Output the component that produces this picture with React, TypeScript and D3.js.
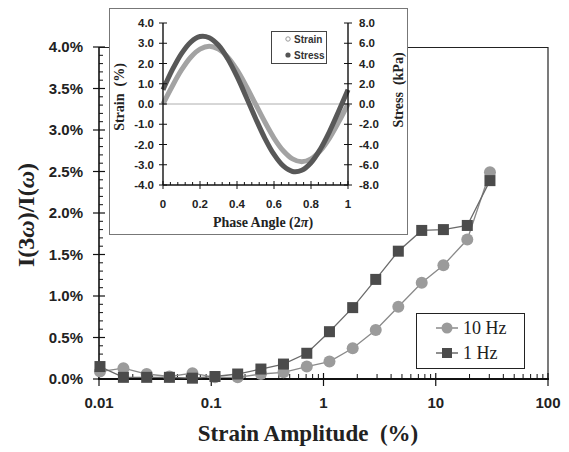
import React from "react";
import * as d3 from "d3";

// Main chart data (strain amplitude %, I(3w)/I(w) %)
const amp1Hz = [0.0102, 0.0165, 0.0266, 0.0424, 0.068, 0.108, 0.172, 0.277, 0.44, 0.71, 1.13, 1.82, 2.92, 4.64, 7.5, 11.7, 19.1, 30.4];
const val1Hz = [0.15, 0.02, 0.02, 0.02, 0.01, 0.03, 0.06, 0.12, 0.18, 0.31, 0.57, 0.86, 1.2, 1.54, 1.79, 1.8, 1.85, 2.39];
const amp10Hz = [0.0102, 0.0165, 0.0266, 0.0424, 0.068, 0.108, 0.172, 0.277, 0.44, 0.71, 1.13, 1.82, 2.92, 4.64, 7.5, 11.7, 19.1, 30.4];
const val10Hz = [0.09, 0.13, 0.06, 0.03, 0.07, 0.02, 0.02, 0.06, 0.08, 0.15, 0.21, 0.37, 0.59, 0.87, 1.16, 1.37, 1.68, 2.49];

const xTickLabels = ["0.01", "0.1", "1", "10", "100"];
const yTicks = [0, 0.5, 1, 1.5, 2, 2.5, 3, 3.5, 4];

// Inset data
const phase = [0, 0.05, 0.1, 0.15, 0.2, 0.25, 0.3, 0.35, 0.4, 0.45, 0.5, 0.55, 0.6, 0.65, 0.7, 0.75, 0.8, 0.85, 0.9, 0.95, 1.0];
const strainVals = [0, 0.88, 1.68, 2.31, 2.71, 2.85, 2.71, 2.31, 1.68, 0.88, 0, -0.88, -1.68, -2.31, -2.71, -2.85, -2.71, -2.31, -1.68, -0.88, 0];
const stressVals = [1.4, 3.36, 4.98, 6.12, 6.66, 6.55, 5.8, 4.47, 2.72, 0.69, -1.4, -3.36, -4.98, -6.12, -6.66, -6.55, -5.8, -4.47, -2.72, -0.69, 1.4];
const insetLeftTicks = [-4, -3, -2, -1, 0, 1, 2, 3, 4];
const insetRightTicks = [-8, -6, -4, -2, 0, 2, 4, 6, 8];
const insetXTicks = [0, 0.2, 0.4, 0.6, 0.8, 1];

const SANS = "'Liberation Sans', Arial, sans-serif";
const SERIF = "'Liberation Serif', 'Times New Roman', serif";

export default function App() {
  const W = 569, H = 452;
  const x = d3.scaleLog().domain([0.01, 100]).range([99, 548]);
  const y = d3.scaleLinear().domain([0, 4]).range([379, 47]);

  const line = d3.line<[number, number]>().x(d => x(d[0])).y(d => y(d[1]));
  const pts1 = amp1Hz.map((a, i) => [a, val1Hz[i]] as [number, number]);
  const pts10 = amp10Hz.map((a, i) => [a, val10Hz[i]] as [number, number]);

  // minor ticks
  const xMinor: number[] = [];
  for (let e = -2; e < 2; e++) for (let m = 2; m <= 9; m++) xMinor.push(m * Math.pow(10, e));
  const yMinor: number[] = [];
  for (let v = 0; v <= 40; v++) if (v % 5 !== 0) yMinor.push(v / 10);

  // inset scales
  const ix = d3.scaleLinear().domain([0, 1]).range([163, 348]);
  const iyL = d3.scaleLinear().domain([-4, 4]).range([185, 23]);
  const iyR = d3.scaleLinear().domain([-8, 8]).range([185, 23]);
  const strainLine = d3.line<number>().x((_, i) => ix(phase[i])).y(d => iyL(d)).curve(d3.curveCatmullRom);
  const stressLine = d3.line<number>().x((_, i) => ix(phase[i])).y(d => iyR(d)).curve(d3.curveCatmullRom);
  const ixMinor: number[] = [];
  for (let i = 1; i < 25; i++) if (i % 5 !== 0) ixMinor.push(i * 0.04);

  const circColor = "#9b9b9b";
  const sqColor = "#4b4b4b";

  return (
    <svg width={W} height={H} style={{ position: "absolute", left: 0, top: 0, background: "#fff" }}>
      {/* main frame */}
      <line x1={99} x2={548} y1={47.5} y2={47.5} stroke="#222" strokeWidth={1} />
      <line x1={548} x2={548} y1={47} y2={379} stroke="#222" strokeWidth={1.2} />

      {/* y axis */}
      <line x1={99} x2={99} y1={47} y2={380} stroke="#111" strokeWidth={1.6} />
      {yTicks.map(t => (
        <g key={"yt" + t}>
          <line x1={93} x2={105} y1={y(t)} y2={y(t)} stroke="#111" strokeWidth={1.2} />
          <text x={83} y={y(t) + 5} textAnchor="end" fontFamily={SANS} fontWeight="bold" fontSize={15} fill="#222">
            {t.toFixed(1) + "%"}
          </text>
        </g>
      ))}
      {yMinor.map(t => (
        <line key={"ym" + t} x1={99} x2={103} y1={y(t)} y2={y(t)} stroke="#111" strokeWidth={1} />
      ))}

      {/* x axis */}
      <line x1={98} x2={549} y1={379} y2={379} stroke="#111" strokeWidth={2.2} />
      {xTickLabels.map(t => (
        <g key={"xt" + t}>
          <line x1={x(+t)} x2={x(+t)} y1={373} y2={386} stroke="#111" strokeWidth={1.2} />
          <text x={x(+t)} y={408} textAnchor="middle" fontFamily={SANS} fontWeight="bold" fontSize={15} fill="#222">
            {t}
          </text>
        </g>
      ))}
      {xMinor.map(t => (
        <line key={"xm" + t} x1={x(t)} x2={x(t)} y1={379} y2={374} stroke="#111" strokeWidth={1} />
      ))}

      {/* series lines */}
      <path d={line(pts10) || ""} fill="none" stroke="#8a8a8a" strokeWidth={1.3} />
      <path d={line(pts1) || ""} fill="none" stroke="#6a6a6a" strokeWidth={1.3} />
      {pts10.map((p, i) => (
        <circle key={"c" + i} cx={x(p[0])} cy={y(p[1])} r={6} fill={circColor} />
      ))}
      {pts1.map((p, i) => (
        <rect key={"s" + i} x={x(p[0]) - 5.5} y={y(p[1]) - 5.5} width={11} height={11} fill={sqColor} />
      ))}

      {/* axis titles */}
      <text x={308} y={441} textAnchor="middle" fontFamily={SERIF} fontWeight="bold" fontSize={23} fill="#222" style={{ whiteSpace: "pre" }}>
        {"Strain Amplitude  (%)"}
      </text>
      <text transform="translate(34,215) rotate(-90)" textAnchor="middle" fontFamily={SERIF} fontWeight="bold" fontSize={24} fill="#222">
        I(3<tspan fontStyle="italic">ω</tspan>)/I(<tspan fontStyle="italic">ω</tspan>)
      </text>

      {/* main legend */}
      <rect x={416.5} y={313.5} width={108} height={55} fill="#fff" stroke="#222" strokeWidth={1} />
      <line x1={436} x2={458} y1={328} y2={328} stroke="#8a8a8a" strokeWidth={1.5} />
      <circle cx={447} cy={328} r={5.5} fill={circColor} />
      <text x={463} y={334} fontFamily={SERIF} fontSize={18} fill="#222">10 Hz</text>
      <line x1={436} x2={458} y1={353} y2={353} stroke="#6a6a6a" strokeWidth={1.5} />
      <rect x={442} y={348} width={10} height={10} fill={sqColor} />
      <text x={463} y={359} fontFamily={SERIF} fontSize={18} fill="#222">1 Hz</text>

      {/* inset */}
      <rect x={109.5} y={8.5} width={298} height={226} fill="#fff" stroke="#777" strokeWidth={1} />
      <line x1={163} x2={348} y1={iyL(0)} y2={iyL(0)} stroke="#999" strokeWidth={0.8} />
      <path d={strainLine(strainVals) || ""} fill="none" stroke="#a3a3a3" strokeWidth={5} />
      <path d={stressLine(stressVals) || ""} fill="none" stroke="#585858" strokeWidth={5} />
      <line x1={163} x2={163} y1={23} y2={185} stroke="#111" strokeWidth={1.4} />
      <line x1={348} x2={348} y1={23} y2={185} stroke="#111" strokeWidth={1.4} />
      <line x1={163} x2={348} y1={185} y2={185} stroke="#111" strokeWidth={1.4} />
      {insetLeftTicks.map(t => (
        <g key={"il" + t}>
          <line x1={159} x2={167} y1={iyL(t)} y2={iyL(t)} stroke="#111" strokeWidth={1} />
          <text x={154} y={iyL(t) + 4} textAnchor="end" fontFamily={SANS} fontWeight="bold" fontSize={11.5} fill="#222">
            {t.toFixed(1)}
          </text>
        </g>
      ))}
      {insetRightTicks.map(t => (
        <g key={"ir" + t}>
          <line x1={344} x2={352} y1={iyR(t)} y2={iyR(t)} stroke="#111" strokeWidth={1} />
          <text x={359} y={iyR(t) + 4} textAnchor="start" fontFamily={SANS} fontWeight="bold" fontSize={11.5} fill="#222">
            {t.toFixed(1)}
          </text>
        </g>
      ))}
      {insetXTicks.map(t => (
        <g key={"ix" + t}>
          <line x1={ix(t)} x2={ix(t)} y1={181} y2={189} stroke="#111" strokeWidth={1} />
          <text x={ix(t)} y={208} textAnchor="middle" fontFamily={SANS} fontWeight="bold" fontSize={11.5} fill="#222">
            {t === 0 || t === 1 ? String(t) : t.toFixed(1)}
          </text>
        </g>
      ))}
      {ixMinor.map(t => (
        <line key={"ixm" + t} x1={ix(t)} x2={ix(t)} y1={185} y2={182} stroke="#111" strokeWidth={1} />
      ))}
      <text x={263} y={227} textAnchor="middle" fontFamily={SERIF} fontWeight="bold" fontSize={14} fill="#222">
        Phase Angle (2<tspan fontStyle="italic">π</tspan>)
      </text>
      <text transform="translate(124,97) rotate(-90)" textAnchor="middle" fontFamily={SERIF} fontWeight="bold" fontSize={14} fill="#222" style={{ whiteSpace: "pre" }}>
        {"Strain  (%)"}
      </text>
      <text transform="translate(403,90) rotate(-90)" textAnchor="middle" fontFamily={SERIF} fontWeight="bold" fontSize={14} fill="#222" style={{ whiteSpace: "pre" }}>
        {"Stress  (kPa)"}
      </text>
      {/* inset legend */}
      <rect x={271.5} y={31.5} width={55} height={32} fill="#fff" stroke="#444" strokeWidth={1} />
      <circle cx={288} cy={39} r={2.2} fill="#fff" stroke="#999" strokeWidth={1} />
      <text x={294} y={42.5} fontFamily={SANS} fontWeight="bold" fontSize={10} fill="#333">Strain</text>
      <circle cx={288} cy={55} r={2.6} fill="#555" />
      <text x={294} y={58.5} fontFamily={SANS} fontWeight="bold" fontSize={10} fill="#333">Stress</text>
    </svg>
  );
}
